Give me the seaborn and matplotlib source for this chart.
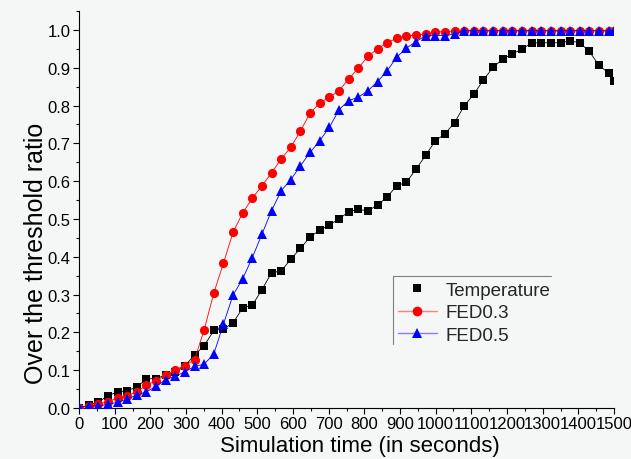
import numpy as np
import pandas as pd
import matplotlib
matplotlib.use("Agg")
import matplotlib.pyplot as plt
from matplotlib.lines import Line2D
from matplotlib.patches import Rectangle
from matplotlib.ticker import MultipleLocator, FormatStrFormatter
import seaborn as sns

# ---- data ----
time_s = list(range(0, 1486, 27)) + [1500]

temperature = [0.000, 0.008, 0.015, 0.033, 0.042, 0.046, 0.055, 0.077, 0.078, 0.087,
               0.094, 0.112, 0.140, 0.165, 0.205, 0.209, 0.225, 0.265, 0.272, 0.313,
               0.358, 0.362, 0.394, 0.422, 0.453, 0.470, 0.484, 0.500, 0.519, 0.526,
               0.521, 0.537, 0.558, 0.588, 0.597, 0.632, 0.668, 0.707, 0.725, 0.755,
               0.799, 0.830, 0.868, 0.901, 0.923, 0.936, 0.950, 0.965, 0.966, 0.966,
               0.966, 0.971, 0.966, 0.943, 0.906, 0.886, 0.866]

fed03 = [0.000, 0.005, 0.010, 0.017, 0.026, 0.033, 0.043, 0.061, 0.072, 0.087,
         0.101, 0.112, 0.128, 0.207, 0.304, 0.383, 0.465, 0.516, 0.555, 0.588,
         0.622, 0.659, 0.690, 0.733, 0.780, 0.807, 0.822, 0.839, 0.870, 0.899,
         0.930, 0.950, 0.966, 0.978, 0.983, 0.987, 0.989, 0.995, 0.995, 0.997,
         0.997, 0.997, 0.997, 0.997, 0.997, 0.997, 0.997, 0.997, 0.997, 0.997,
         0.997, 0.997, 0.997, 0.997, 0.997, 0.997, 0.997]

fed05 = [0.003, 0.005, 0.005, 0.010, 0.015, 0.024, 0.034, 0.043, 0.057, 0.075,
         0.084, 0.096, 0.110, 0.116, 0.143, 0.222, 0.299, 0.342, 0.398, 0.460,
         0.522, 0.575, 0.604, 0.641, 0.676, 0.707, 0.742, 0.789, 0.813, 0.822,
         0.839, 0.863, 0.892, 0.928, 0.952, 0.969, 0.985, 0.985, 0.985, 0.989,
         0.998, 0.998, 0.998, 0.998, 0.998, 0.998, 0.998, 0.998, 0.998, 0.998,
         0.998, 0.998, 0.998, 0.998, 0.998, 0.998, 0.998]

series_names = ["Temperature", "FED0.3", "FED0.5"]
x_label = "Simulation time (in seconds)"
y_label = "Over the threshold ratio"

df = pd.DataFrame({"time": time_s, "Temperature": temperature,
                   "FED0.3": fed03, "FED0.5": fed05})

# ---- style ----
bg = "#f5f6f6"
sns.set_theme(style="ticks")
plt.rcParams["font.family"] = ["Liberation Sans", "DejaVu Sans"]
plt.rcParams["axes.facecolor"] = bg
plt.rcParams["figure.facecolor"] = bg

W, H = 631, 460
fig = plt.figure(figsize=(W / 100, H / 100), dpi=100)
ax = fig.add_axes([79 / W, 1 - 409 / H, (614 - 79) / W, (409 - 12) / H])

sns.lineplot(data=df, x="time", y="Temperature", ax=ax, color="black",
             linewidth=0.6, marker="s", markersize=5.6, markeredgewidth=0,
             estimator=None, zorder=3)
sns.lineplot(data=df, x="time", y="FED0.3", ax=ax, color="#ff0000",
             linewidth=0.6, marker="o", markersize=6.6, markeredgewidth=0,
             estimator=None, zorder=4)
sns.lineplot(data=df, x="time", y="FED0.5", ax=ax, color="#0000ff",
             linewidth=0.6, marker="^", markersize=7.2, markeredgewidth=0,
             estimator=None, zorder=5)

ax.set_xlim(0, 1500)
ax.set_ylim(0, 1.05)
ax.xaxis.set_major_locator(MultipleLocator(100))
ax.xaxis.set_minor_locator(MultipleLocator(50))
ax.yaxis.set_major_locator(MultipleLocator(0.1))
ax.yaxis.set_minor_locator(MultipleLocator(0.05))
ax.yaxis.set_major_formatter(FormatStrFormatter("%.1f"))

for s in ["top", "right"]:
    ax.spines[s].set_visible(False)
for s in ["left", "bottom"]:
    ax.spines[s].set_color("black")
    ax.spines[s].set_linewidth(0.8)

ax.tick_params(which="major", direction="out", length=4, width=0.8,
               colors="black", labelsize=12, pad=2)
ax.tick_params(which="minor", direction="out", length=2.5, width=0.8,
               colors="black")

ax.set_xlabel(x_label, fontsize=16, color="black")
ax.set_ylabel(y_label, fontsize=18, color="black")
ax.xaxis.set_label_coords(0.525, -0.068)
ax.yaxis.set_label_coords(-0.058, 0.393)

# markers are cut at the right edge of the plot area, as in the reference
fig.patches.append(Rectangle((614 / W, 1 - 406 / H), (W - 614) / W, 406 / H,
                             transform=fig.transFigure, facecolor=bg,
                             edgecolor="none", zorder=10))

handles = [
    Line2D([], [], color="black", linestyle="none", marker="s", markersize=6,
           markeredgewidth=0),
    Line2D([], [], color="#ff8080", linewidth=1.0, marker="o", markersize=7,
           markerfacecolor="#ff0000", markeredgewidth=0),
    Line2D([], [], color="#8080ff", linewidth=1.0, marker="^", markersize=7.5,
           markerfacecolor="#0000ff", markeredgewidth=0),
]
leg = ax.legend(handles, series_names, loc="upper left",
                bbox_to_anchor=(0.585, 0.333), borderaxespad=0,
                fontsize=13.5, handlelength=2.1, labelspacing=0.3,
                frameon=False, borderpad=0.3, handletextpad=0.45)

# legend frame: only top and left edges are drawn in the reference
frame_col = "#808080"
fig.add_artist(Line2D([393 / W, 551 / W], [1 - 277 / H, 1 - 277 / H],
                      transform=fig.transFigure, color=frame_col, linewidth=0.8))
fig.add_artist(Line2D([393 / W, 393 / W], [1 - 277 / H, 1 - 345 / H],
                      transform=fig.transFigure, color=frame_col, linewidth=0.8))

fig.savefig("out.png", dpi=100, facecolor=bg)
